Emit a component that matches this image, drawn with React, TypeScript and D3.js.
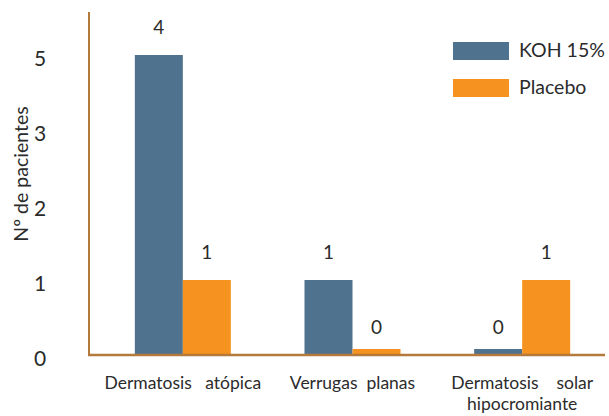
import React from "react";
import * as d3 from "d3";

// Categories (each line of the label is drawn separately)
const categories = ["Dermatosis atópica", "Verrugas planas", "Dermatosis solar hipocromiante"];
const categoryLines = [
  ["Dermatosis   atópica"],
  ["Verrugas  planas"],
  ["Dermatosis    solar", "hipocromiante"],
];
const seriesNames = ["KOH 15%", "Placebo"];
const kohValues = [4, 1, 0];
const placeboValues = [1, 0, 1];
// Tick labels as printed on the axis (positions 0..4)
const tickValues = [0, 1, 2, 3, 4];
const tickLabels = ["0", "1", "2", "3", "5"];

const W = 609;
const H = 416;
const colors = ["#4f738e", "#f6921f"];
const axisColor = "#b47a3c";
const textColor = "#2b2b2b";
const font = "'Lato', 'Open Sans', sans-serif";
const zeroStub = 6;

export default function App() {
  const x = d3.scaleBand<string>().domain(categories).range([98, 607]).padding(0);
  const y = d3.scaleLinear().domain([0, 4]).range([355, 55]);
  const barW = 48;
  const series = [kohValues, placeboValues];

  return (
    <svg width={W} height={H} style={{ position: "absolute", left: 0, top: 0, fontFamily: font }}>
      <rect width={W} height={H} fill="#fff" />
      {categories.map((c, i) => {
        const cx = (x(c) ?? 0) + x.bandwidth() / 2;
        return (
          <g key={c}>
            {series.map((vals, s) => {
              const v = vals[i];
              const h = Math.max(y(0) - y(v), zeroStub);
              const bx = cx - barW + s * barW;
              return (
                <g key={s}>
                  <rect x={bx} y={y(0) - h} width={barW} height={h} fill={colors[s]} />
                  <text
                    x={bx + barW / 2}
                    y={y(v) - 21}
                    textAnchor="middle"
                    fontSize={19}
                    fill={textColor}
                  >
                    {v}
                  </text>
                </g>
              );
            })}
            {categoryLines[i].map((line, k) => (
              <text
                key={k}
                x={cx}
                y={389 + k * 21}
                textAnchor="middle"
                fontSize={17.5}
                fill={textColor}
                style={{ whiteSpace: "pre" }}
              >
                {line}
              </text>
            ))}
          </g>
        );
      })}
      {/* axes */}
      <line x1={89} x2={89} y1={12} y2={356} stroke={axisColor} strokeWidth={2} />
      <line x1={88} x2={605} y1={355} y2={355} stroke={axisColor} strokeWidth={2.5} />
      {tickValues.map((t, i) => (
        <text key={t} x={40} y={y(t) + 11} textAnchor="middle" fontSize={21} fill={textColor}>
          {tickLabels[i]}
        </text>
      ))}
      <text
        transform={`translate(28,174) rotate(-90)`}
        textAnchor="middle"
        fontSize={19.5}
        fill={textColor}
      >
        Nº de pacientes
      </text>
      {/* legend */}
      {seriesNames.map((n, s) => (
        <g key={n} transform={`translate(453,${42 + s * 37})`}>
          <rect width={56} height={18} fill={colors[s]} />
          <text x={66} y={15} fontSize={19.5} fill={textColor}>
            {n}
          </text>
        </g>
      ))}
    </svg>
  );
}
